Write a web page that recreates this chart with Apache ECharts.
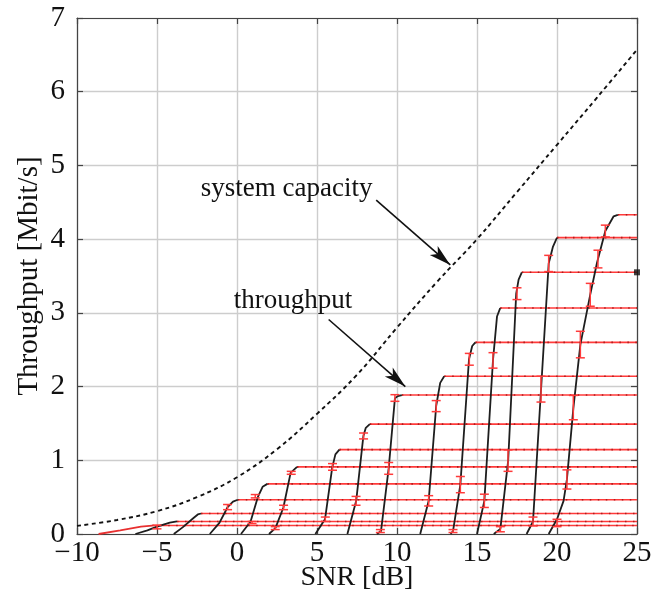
<!DOCTYPE html>
<html>
<head>
<meta charset="utf-8">
<script src="https://cdn.jsdelivr.net/npm/echarts@6.0.0/dist/echarts.min.js"></script>
<style>
  html, body { margin: 0; padding: 0; background: #ffffff; }
  #chart { width: 655px; height: 591px; }
</style>
</head>
<body>
<div id="chart"></div>
<script>
// Shannon-type system capacity versus SNR (dashed curve)
const capacitySnr = [-10, -7.5, -5, -2.5, 0, 2.5, 5, 7.5, 10, 12.5, 15, 17.5, 20, 22.5, 25];
const capacityVal = [0.11, 0.19, 0.31, 0.50, 0.77, 1.15, 1.63, 2.16, 2.80, 3.42, 4.00, 4.64, 5.28, 5.92, 6.57];

// Throughput of each modulation/coding scheme: rising part, last point is the saturation level
const linkSnr = [
  [-8.65, -7.3, -6.0, -5.3],
  [-6.35, -5.6, -5.0, -4.2, -3.75],
  [-3.95, -3.4, -2.7, -2.45, -2.25],
  [-1.7, -1.1, -0.6, -0.25, 0.05],
  [0.25, 0.85, 1.3, 1.6, 1.9],
  [2.0, 2.4, 2.9, 3.35, 3.75],
  [4.9, 5.5, 5.95, 6.15, 6.4],
  [6.9, 7.45, 7.9, 8.05, 8.3],
  [8.75, 9.0, 9.48, 9.87, 10.05, 10.3],
  [11.45, 11.98, 12.45, 12.7, 12.95],
  [13.35, 13.5, 13.96, 14.5, 14.7, 14.9],
  [15.0, 15.46, 16.0, 16.25, 16.45],
  [16.05, 16.46, 16.95, 17.45, 17.6, 17.8],
  [18.1, 18.5, 19.0, 19.48, 19.75, 20.0],
  [19.48, 20.0, 20.41, 20.62, 21.02, 21.46, 22.08, 22.5, 23.02, 23.54, 23.8]
];
const linkVal = [
  [0, 0.05, 0.10, 0.115],
  [0, 0.05, 0.10, 0.155, 0.17],
  [0, 0.09, 0.22, 0.265, 0.278],
  [0, 0.15, 0.36, 0.44, 0.465],
  [0, 0.17, 0.50, 0.64, 0.68],
  [0, 0.08, 0.36, 0.83, 0.91],
  [0, 0.20, 0.90, 1.08, 1.145],
  [0, 0.45, 1.33, 1.44, 1.49],
  [0, 0.04, 0.89, 1.84, 1.87, 1.885],
  [0, 0.45, 1.74, 2.05, 2.14],
  [0, 0.04, 0.67, 2.37, 2.55, 2.60],
  [0, 0.45, 2.36, 2.95, 3.065],
  [0, 0.07, 1.00, 3.26, 3.45, 3.55],
  [0, 0.17, 1.95, 3.67, 3.90, 4.02],
  [0, 0.20, 0.45, 0.74, 1.70, 2.57, 3.25, 3.68, 4.11, 4.31, 4.33]
];

// Confidence intervals of the simulated throughput
const barSnr  = [-5.0, -0.59, 0.94, 1.14, 2.39, 2.91, 3.39, 5.52, 5.97, 7.44, 7.91, 8.96, 9.48, 9.87, 11.98, 12.45, 13.5, 13.96, 14.52, 15.46, 16.0, 16.46, 16.94, 17.5, 18.5, 19.0, 19.48, 20.0, 20.62, 21.02, 21.46, 22.08, 22.56, 23.02];
const barLow  = [0.07, 0.33, 0.14, 0.49, 0.06, 0.33, 0.81, 0.17, 0.865, 0.39, 1.29, 0.02, 0.81, 1.80, 0.38, 1.66, 0.02, 0.56, 2.29, 0.36, 2.25, 0.03, 0.85, 3.18, 0.11, 1.79, 3.56, 0.10, 0.61, 1.55, 2.39, 3.09, 3.61, 4.03];
const barHigh = [0.12, 0.40, 0.17, 0.535, 0.10, 0.39, 0.85, 0.23, 0.955, 0.51, 1.37, 0.06, 0.97, 1.89, 0.52, 1.81, 0.06, 0.78, 2.45, 0.54, 2.46, 0.10, 1.14, 3.34, 0.23, 2.14, 3.78, 0.20, 0.87, 1.88, 2.75, 3.40, 3.85, 4.19];

const snrMax = 25;
const markedScheme = 12;

// Annotations: text position and arrow start/end in data units
const capacityLabel = { text: 'system capacity', at: [3.1, 4.68], from: [8.7, 4.53], to: [13.33, 3.65] };
const throughputLabel = { text: 'throughput', at: [3.5, 3.16], from: [5.73, 2.91], to: [10.52, 2.0] };

const FONT = '"Liberation Serif", "DejaVu Serif", serif';
const RED = '#ff3a3a';

const chart = echarts.init(document.getElementById('chart'), null, { renderer: 'canvas' });

const series = [];

series.push({
  type: 'line',
  name: 'capacity',
  data: capacitySnr.map((x, i) => [x, capacityVal[i]]),
  smooth: 0.4,
  showSymbol: false,
  lineStyle: { color: '#111', width: 1.9, type: [4, 3.5] },
  z: 5,
  silent: true,
  markLine: {
    silent: true,
    animation: false,
    label: { show: false },
    lineStyle: { color: '#111', width: 1.6, type: 'solid' },
    data: [capacityLabel, throughputLabel].map(a => [
      { coord: a.from, symbol: 'none' },
      { coord: a.to, symbol: 'arrow', symbolSize: [9, 22] }
    ])
  },
  markPoint: {
    silent: true,
    animation: false,
    symbol: 'circle',
    symbolSize: 0,
    data: [capacityLabel, throughputLabel].map(a => ({
      coord: a.at,
      label: {
        show: true, position: 'inside', formatter: a.text,
        fontFamily: FONT, fontSize: 27, color: '#111'
      }
    }))
  }
});

linkSnr.forEach((xs, k) => {
  const ys = linkVal[k];
  const level = ys[ys.length - 1];
  const start = xs[xs.length - 1];
  // saturation level, red with dotted sample markers
  series.push({
    type: 'line',
    data: [[start, level], [snrMax, level]],
    showSymbol: false,
    lineStyle: { color: RED, width: 1.6 },
    z: 2, silent: true
  });
  series.push({
    type: 'line',
    data: [[start, level], [snrMax, level]],
    showSymbol: false,
    lineStyle: { color: '#b01c1c', width: 1.6, type: [1.5, 6.5] },
    z: 3, silent: true
  });
  // rising part
  series.push({
    type: 'line',
    data: xs.map((x, i) => [x, ys[i]]),
    showSymbol: false,
    lineStyle: { color: k === 0 ? '#e83030' : '#1e1e1e', width: 1.8 },
    z: 4, silent: true
  });
});

series.push({
  type: 'custom',
  data: barSnr.map((x, i) => [x, barLow[i], barHigh[i]]),
  encode: { x: 0, y: [1, 2] },
  z: 6, silent: true,
  renderItem: function (params, api) {
    const lo = api.coord([api.value(0), api.value(1)]);
    const hi = api.coord([api.value(0), api.value(2)]);
    const w = 4.5;
    const style = { stroke: RED, lineWidth: 1.5 };
    return {
      type: 'group',
      children: [
        { type: 'line', shape: { x1: lo[0], y1: lo[1], x2: hi[0], y2: hi[1] }, style },
        { type: 'line', shape: { x1: lo[0] - w, y1: lo[1], x2: lo[0] + w, y2: lo[1] }, style },
        { type: 'line', shape: { x1: hi[0] - w, y1: hi[1], x2: hi[0] + w, y2: hi[1] }, style }
      ]
    };
  }
});

const marked = linkVal[markedScheme];
series.push({
  type: 'scatter',
  data: [[snrMax, marked[marked.length - 1]]],
  symbol: 'rect',
  symbolSize: 6,
  itemStyle: { color: '#111' },
  z: 7, silent: true
});

const axisCommon = {
  axisLine: { show: true, onZero: false, lineStyle: { color: '#444', width: 1.2 } },
  axisTick: { show: true, inside: true, length: 6, lineStyle: { color: '#444', width: 1.2 } }
};

chart.setOption({
  animation: false,
  backgroundColor: '#ffffff',
  grid: { left: 77, right: 18, top: 18, bottom: 57, containLabel: false, outerBoundsMode: 'none' },
  xAxis: [
    Object.assign({
      type: 'value', min: -10, max: 25, interval: 5,
      axisLabel: {
        margin: 5, fontFamily: FONT, fontSize: 29, color: '#111',
        formatter: v => String(v).replace('-', '\u2212')
      },
      splitLine: { show: true, lineStyle: { color: '#cdcdcd', width: 1.4 } },
      name: 'SNR [dB]', nameLocation: 'middle', nameGap: 30, nameMoveOverlap: false,
      nameTextStyle: { fontFamily: FONT, fontSize: 28, color: '#111' }
    }, axisCommon),
    Object.assign({
      type: 'value', min: -10, max: 25, interval: 5, position: 'top',
      axisLabel: { show: false }, splitLine: { show: false }
    }, axisCommon)
  ],
  yAxis: [
    Object.assign({
      type: 'value', min: 0, max: 7, interval: 1,
      axisLabel: { margin: 12, fontFamily: FONT, fontSize: 29, color: '#111' },
      splitLine: { show: true, lineStyle: { color: '#cdcdcd', width: 1.4 } },
      name: 'Throughput [Mbit/s]', nameLocation: 'middle', nameGap: 33, nameMoveOverlap: false,
      nameTextStyle: { fontFamily: FONT, fontSize: 29, color: '#111' }
    }, axisCommon),
    Object.assign({
      type: 'value', min: 0, max: 7, interval: 1, position: 'right',
      axisLabel: { show: false }, splitLine: { show: false }
    }, axisCommon)
  ],
  series: series
});
</script>
</body>
</html>
